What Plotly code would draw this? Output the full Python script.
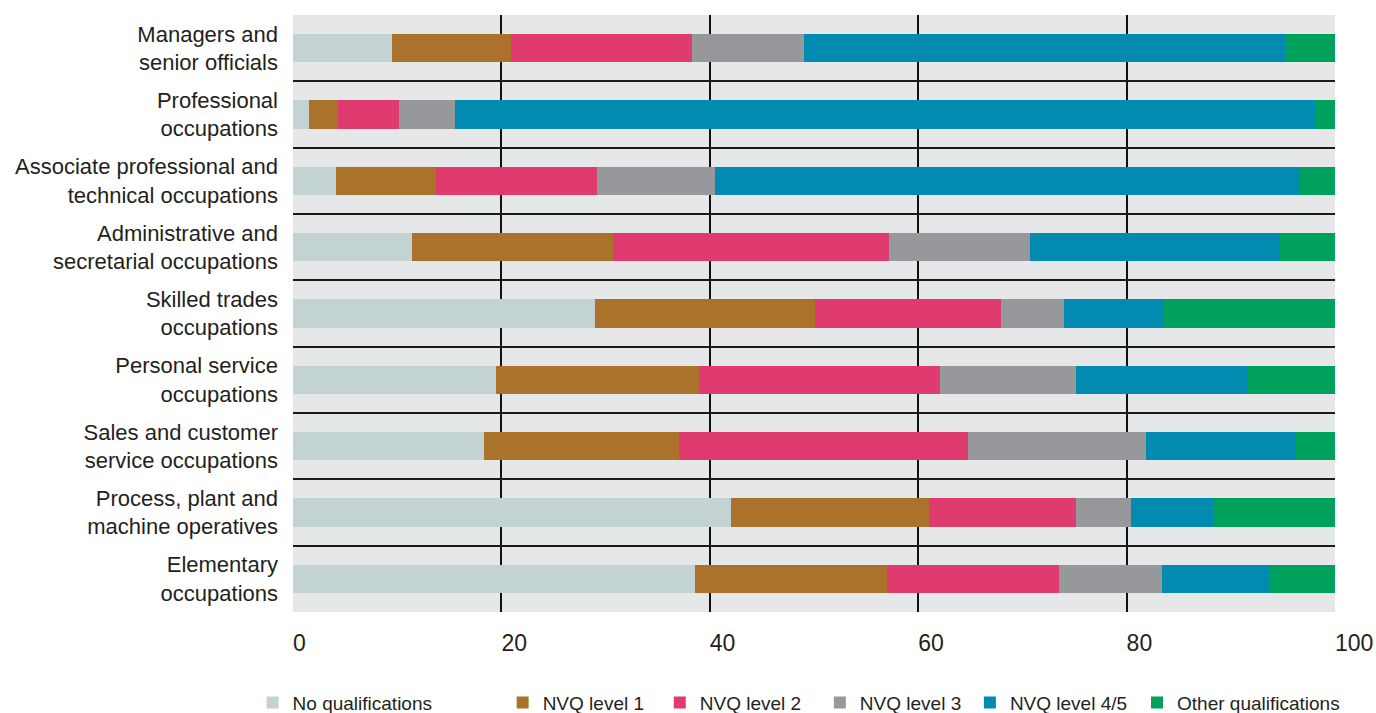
import plotly.graph_objects as go

categories = [
    "Managers and<br>senior officials",
    "Professional<br>occupations",
    "Associate professional and<br>technical occupations",
    "Administrative and<br>secretarial occupations",
    "Skilled trades<br>occupations",
    "Personal service<br>occupations",
    "Sales and customer<br>service occupations",
    "Process, plant and<br>machine operatives",
    "Elementary<br>occupations",
]

series_names = ["No qualifications", "NVQ level 1", "NVQ level 2",
                "NVQ level 3", "NVQ level 4/5", "Other qualifications"]

no_qualifications = [9.5, 1.5, 4.1, 11.4, 29.0, 19.5, 18.3, 42.0, 38.6]
nvq_level_1 = [11.4, 2.8, 9.6, 19.3, 21.1, 19.5, 18.7, 19.0, 18.4]
nvq_level_2 = [17.4, 5.9, 15.5, 26.5, 17.8, 23.1, 27.8, 14.1, 16.5]
nvq_level_3 = [10.7, 5.3, 11.3, 13.5, 6.1, 13.0, 17.1, 5.3, 9.9]
nvq_level_45 = [46.2, 82.6, 56.1, 24.0, 9.5, 16.5, 14.4, 8.0, 10.3]
other_qualifications = [4.8, 1.9, 3.4, 5.3, 16.5, 8.4, 3.7, 11.6, 6.3]

x_tick_values = [0, 20, 40, 60, 80, 100]
x_tick_labels = ["0", "20", "40", "60", "80", "100"]

colors = ["#c3d2d3", "#aa722b", "#e03b6e", "#97989b", "#038ab1", "#00a05d"]

all_series = [no_qualifications, nvq_level_1, nvq_level_2,
              nvq_level_3, nvq_level_45, other_qualifications]

# horizontal position (paper fraction) of each legend entry
legend_x = [-0.0388, 0.2012, 0.3520, 0.5056, 0.6496, 0.8100]
legend_ids = ["legend", "legend2", "legend3", "legend4", "legend5", "legend6"]

FONT = "Liberation Sans, Arial, Helvetica, sans-serif"
TEXT = "#231f20"

fig = go.Figure()
for name, vals, col, lid in zip(series_names, all_series, colors, legend_ids):
    fig.add_trace(go.Bar(
        x=vals, y=categories, name=name, orientation="h",
        marker=dict(color=col, line=dict(width=0)),
        hoverinfo="x+name",
        legend=lid,
        showlegend=True,
    ))

legend_common = dict(
    orientation="h",
    xanchor="left",
    y=-0.152, yanchor="middle",
    font=dict(size=19, family=FONT, color=TEXT),
    bgcolor="rgba(0,0,0,0)",
)
legend_layout = {}
for lid, lx in zip(legend_ids, legend_x):
    legend_layout[lid] = dict(legend_common, x=lx)

fig.update_layout(
    showlegend=True,
    barmode="stack",
    bargap=0.568,
    width=1376, height=713,
    margin=dict(l=293.4, r=41, t=15, b=100.8, autoexpand=False),
    paper_bgcolor="white",
    plot_bgcolor="#e6e7e8",
    font=dict(family=FONT, color=TEXT),
    xaxis=dict(
        range=[0, 100],
        tickmode="array",
        tickvals=x_tick_values,
        ticktext=x_tick_labels,
        ticklabelposition="outside right",
        ticks="",
        ticklabelstandoff=15,
        tickfont=dict(size=23, family=FONT, color=TEXT),
        showgrid=True, gridcolor="#111111", gridwidth=1.5,
        zeroline=False, showline=False,
        fixedrange=True,
    ),
    yaxis=dict(
        categoryorder="array",
        categoryarray=categories,
        autorange="reversed",
        tickson="boundaries",
        ticks="",
        ticklabelstandoff=14,
        tickfont=dict(size=22, family=FONT, color=TEXT),
        showgrid=True, gridcolor="#1a1a1a", gridwidth=2,
        zeroline=False, showline=False,
        fixedrange=True,
    ),
    **legend_layout,
)

fig.write_html(
    "out.html",
    config={"displayModeBar": False},
    post_script="document.body.style.margin='0';document.body.style.overflow='hidden';",
)
